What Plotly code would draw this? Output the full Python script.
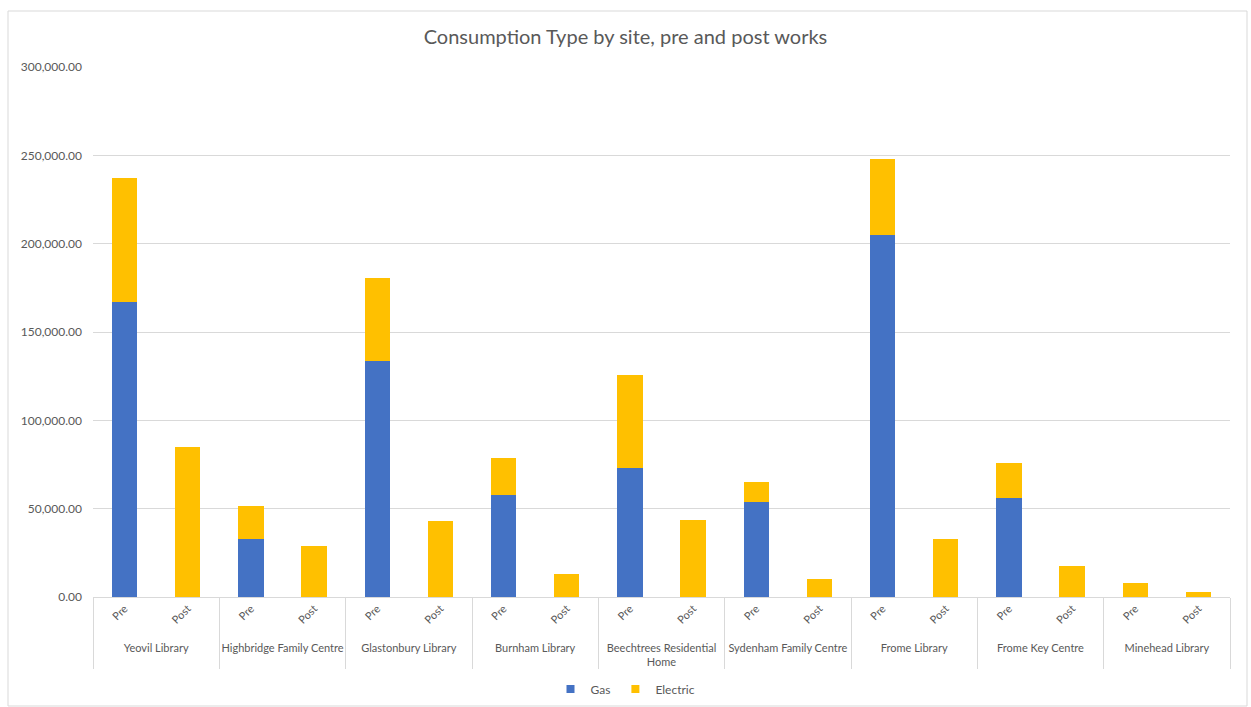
import plotly.graph_objects as go

sites = ["Yeovil Library", "Highbridge Family Centre", "Glastonbury Library", "Burnham Library",
         "Beechtrees Residential<br>Home", "Sydenham Family Centre", "Frome Library",
         "Frome Key Centre", "Minehead Library"]
phases = ["Pre", "Post"]

gas_pre = [167000, 32800, 133600, 57600, 72900, 53800, 205100, 56000, 0]
elec_pre = [70000, 18700, 47000, 21100, 52800, 11300, 42600, 19800, 7700]
gas_post = [0, 0, 0, 0, 0, 0, 0, 0, 0]
elec_post = [84900, 28900, 43000, 13000, 43400, 10200, 32800, 17500, 2650]

x_outer, x_inner, gas, elec = [], [], [], []
for i, s in enumerate(sites):
    x_outer += [s, s]
    x_inner += phases
    gas += [gas_pre[i], gas_post[i]]
    elec += [elec_pre[i], elec_post[i]]

W, H = 1251, 707
L, R, T, B = 93, 21, 67, 110
pw, ph = W - L - R, H - T - B

def px(xp):
    return (xp - L) / pw

def py(yp):
    return (H - B - yp) / ph

GAS_C, ELEC_C = "#4472C4", "#FFC000"

fig = go.Figure()
fig.add_trace(go.Bar(name="Gas", x=[x_outer, x_inner], y=gas, marker_color=GAS_C,
                     marker_line_width=0, showlegend=False))
fig.add_trace(go.Bar(name="Electric", x=[x_outer, x_inner], y=elec, marker_color=ELEC_C,
                     marker_line_width=0, showlegend=False))
# legend entries with small square swatches
for name, c in [("Gas", GAS_C), ("Electric", ELEC_C)]:
    fig.add_trace(go.Scatter(name=name, x=[None], y=[None], mode="markers",
                             marker=dict(symbol="square", size=8, color=c), showlegend=True))

font = "Lato, 'Open Sans', sans-serif"
fig.update_layout(
    barmode="stack",
    bargap=0.6,
    width=W, height=H,
    margin=dict(l=L, r=R, t=T, b=B, pad=0, autoexpand=False),
    paper_bgcolor="white", plot_bgcolor="white",
    font=dict(family=font, color="#595959", size=12),
    title=dict(text="Consumption Type by site, pre and post works", x=0.5, xanchor="center",
               xref="container", y=1 - 37 / H, yanchor="middle", yref="container",
               font=dict(size=20, color="#595959", family=font)),
    legend=dict(orientation="h", x=0.5, xanchor="center", xref="container",
                y=1 - 689 / H, yanchor="middle", yref="container",
                font=dict(size=12, color="#595959"), itemwidth=30, traceorder="normal",
                itemclick=False, tracegroupgap=0),
    showlegend=True,
)
fig.update_yaxes(range=[0, 300000], tickvals=[0, 50000, 100000, 150000, 200000, 250000, 300000],
                 tickformat=",.2f", showgrid=True, gridcolor="#D9D9D9", gridwidth=1,
                 zeroline=False, showline=False, ticks="", ticklabelstandoff=10,
                 tickfont=dict(size=12, color="#595959"), automargin=False)
fig.update_xaxes(type="multicategory", showline=True, linecolor="#D9D9D9", linewidth=1,
                 ticks="", showdividers=True, dividercolor="#D9D9D9", dividerwidth=1,
                 tickangle=-45, tickfont=dict(size=11, color="#595959"), automargin=False)

fig.add_shape(type="rect", xref="paper", yref="paper", x0=px(8), x1=px(1247), y0=py(11), y1=py(706),
              line=dict(color="#D9D9D9", width=1), fillcolor="rgba(0,0,0,0)", layer="below")

fig.write_html("out.html")
